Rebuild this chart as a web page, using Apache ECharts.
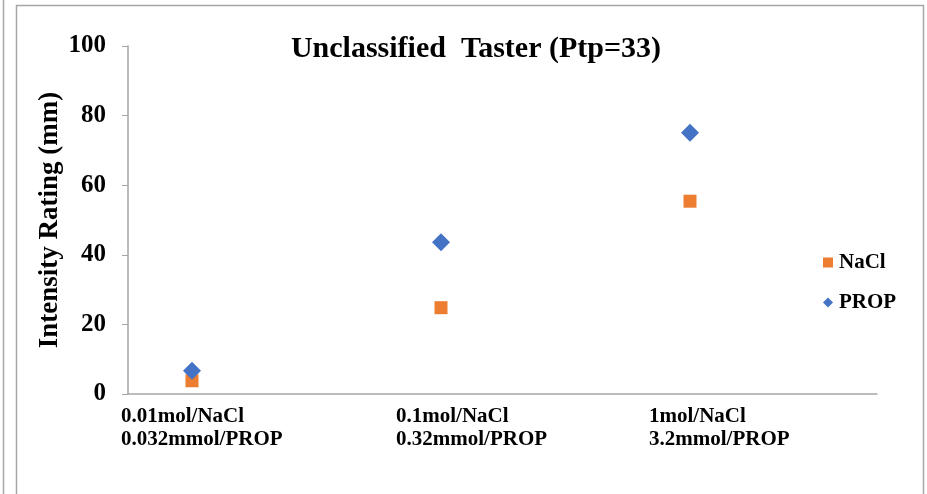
<!DOCTYPE html>
<html><head><meta charset="utf-8">
<script src="https://cdn.jsdelivr.net/npm/echarts@6/dist/echarts.min.js"></script>
<style>html,body{margin:0;padding:0;background:#fff}#c{width:927px;height:494px}</style>
</head><body><div id="c"></div>
<script>
const categories = ['0.01mol/NaCl\n0.032mmol/PROP', '0.1mol/NaCl\n0.32mmol/PROP', '1mol/NaCl\n3.2mmol/PROP'];
const xPositions = [1, 2, 3];
const naclValues = [3.8, 24.8, 55.4];
const propValues = [6.7, 43.6, 75.1];
const yTicks = [0, 20, 40, 60, 80, 100];

const F = '"Liberation Serif", "Times New Roman", serif';
const chart = echarts.init(document.getElementById('c'), null, {renderer: 'canvas'});
const labelLeft = [121, 396, 649];
const labelGraphics = categories.map((t, i) => ({
  id: 'cat' + i, type: 'text', left: labelLeft[i], top: 405,
  style: {text: t, fontFamily: F, fontWeight: 'bold', fontSize: 21, lineHeight: 23, fill: '#000'}
}));
const option = {
  animation: false,
  backgroundColor: '#fff',
  title: {
    text: 'Unclassified  Taster (Ptp=33)',
    left: 471, top: 29, textAlign: 'center',
    textStyle: {fontFamily: F, fontWeight: 'bold', fontSize: 30, color: '#000'}
  },
  grid: {left: 128, right: 50, top: 46, bottom: 100},
  xAxis: {
    type: 'value', min: 0.743, max: 3.751,
    axisLine: {show: true, lineStyle: {color: '#a6a6a6', width: 1.5}},
    axisTick: {show: false}, axisLabel: {show: false}, splitLine: {show: false}
  },
  yAxis: {
    type: 'value', min: 0, max: 100, interval: 20,
    name: 'Intensity Rating (mm)', nameLocation: 'middle', nameGap: 64, nameMoveOverlap: false,
    nameTextStyle: {fontFamily: F, fontWeight: 'bold', fontSize: 27, color: '#000'},
    axisLine: {show: true, lineStyle: {color: '#a6a6a6', width: 1.5}},
    axisTick: {show: true, length: 6, inside: false, lineStyle: {color: '#a6a6a6'}},
    axisLabel: {fontFamily: F, fontWeight: 'bold', fontSize: 25, color: '#000', margin: 22,
      formatter: v => yTicks.includes(v) ? String(v) : ''},
    splitLine: {show: false}
  },
  legend: {
    orient: 'vertical', left: 818, top: 247, itemGap: 19,
    itemWidth: 10, itemHeight: 10,
    textStyle: {fontFamily: F, fontWeight: 'bold', fontSize: 21, color: '#000', padding: [0, 0, 0, 1]},
    data: [{name: 'NaCl', icon: 'rect'}, {name: 'PROP', icon: 'diamond'}]
  },
  series: [
    {name: 'NaCl', type: 'scatter', symbol: 'rect', symbolSize: 13,
     itemStyle: {color: '#ED7D31', opacity: 1}, z: 2,
     data: xPositions.map((x, i) => [x, naclValues[i]])},
    {name: 'PROP', type: 'scatter', symbol: 'diamond', symbolSize: 18,
     itemStyle: {color: '#4472C4', opacity: 1}, z: 3,
     data: xPositions.map((x, i) => [x, propValues[i]])}
  ],
  graphic: [
    {id: 'frame', type: 'rect', shape: {x: 16.5, y: 5.5, width: 907, height: 520}, style: {fill: 'none', stroke: '#a6a6a6', lineWidth: 1.5}, silent: true, z: -1},
    {id: 'edge', type: 'line', shape: {x1: 3.5, y1: 0, x2: 3.5, y2: 494}, style: {stroke: '#a6a6a6', lineWidth: 1.5}, silent: true}
  ].concat(labelGraphics)
};
chart.setOption(option);
</script></body></html>
